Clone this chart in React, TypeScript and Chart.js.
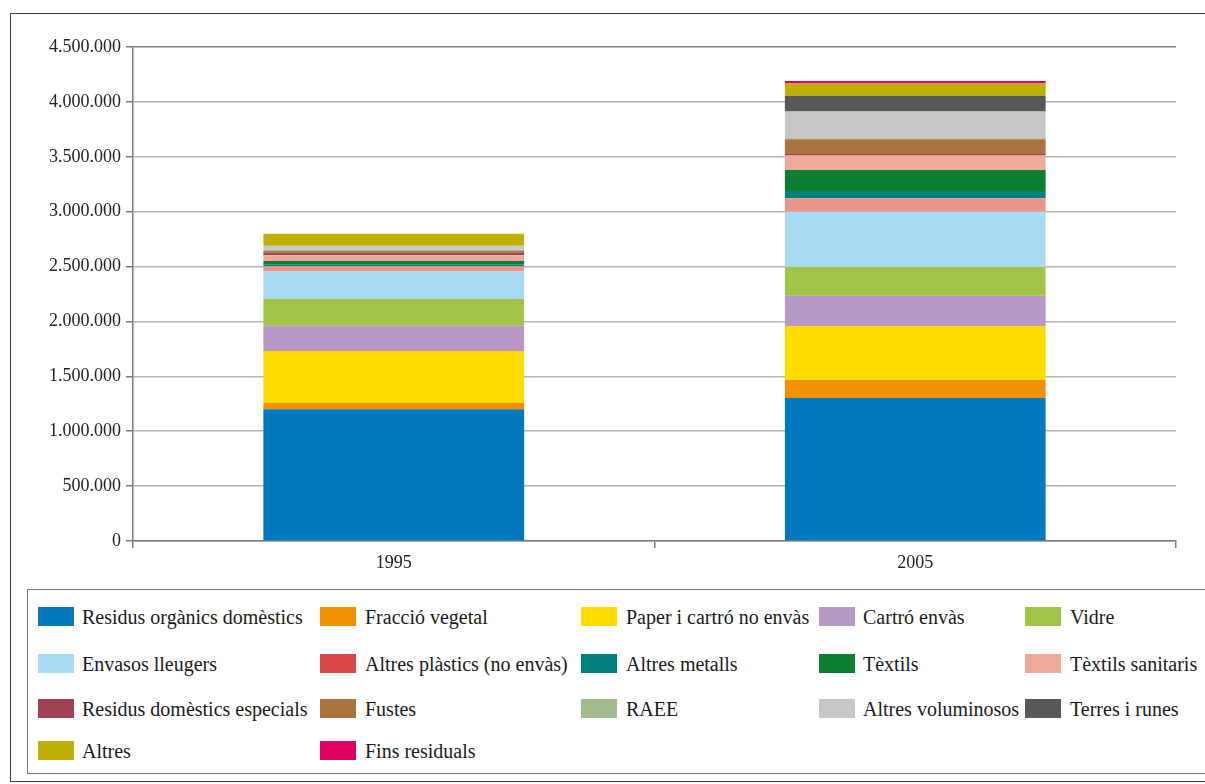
import React, { useEffect, useRef } from "react";
import { Chart, registerables } from "chart.js";

Chart.register(...registerables);

const FONT = "'Liberation Serif', 'DejaVu Serif', serif";

// Years on the category axis
const years = ["1995", "2005"];

// Tonnes per waste fraction, [1995, 2005]
const residusOrganics = [1200000, 1303000];
const fraccioVegetal = [57000, 164000];
const paperCartro = [474000, 492000];
const cartroEnvas = [230000, 276000];
const vidre = [243000, 261000];
const envasosLleugers = [252000, 504000];
const altresPlastics = [46000, 122000];
const altresMetalls = [18000, 67000];
const textils = [30000, 191000];
const textilsSanitaris = [52000, 131000];
const residusEspecials = [24000, 15000];
const fustes = [15000, 134000];
const raee = [12000, 9000];
const altresVoluminosos = [36000, 243000];
const terresRunes = [0, 143000];
const altres = [109000, 112000];
const finsResiduals = [0, 24000];

// Y axis limits
const yMax = 4500000;
const yStep = 500000;

const series = [
  { label: "Residus orgànics domèstics", data: residusOrganics, color: "#0079BC" },
  { label: "Fracció vegetal", data: fraccioVegetal, color: "#F29100" },
  { label: "Paper i cartró no envàs", data: paperCartro, color: "#FFDB00" },
  { label: "Cartró envàs", data: cartroEnvas, color: "#B699C4" },
  { label: "Vidre", data: vidre, color: "#A2C547" },
  { label: "Envasos lleugers", data: envasosLleugers, color: "#A6DBF3" },
  { label: "Altres plàstics (no envàs)", data: altresPlastics, color: "#E99688", key: "#DA474A" },
  { label: "Altres metalls", data: altresMetalls, color: "#00807E" },
  { label: "Tèxtils", data: textils, color: "#0B7F2E" },
  { label: "Tèxtils sanitaris", data: textilsSanitaris, color: "#EEA99B" },
  { label: "Residus domèstics especials", data: residusEspecials, color: "#A04154" },
  { label: "Fustes", data: fustes, color: "#A9743E" },
  { label: "RAEE", data: raee, color: "#A2BC8E" },
  { label: "Altres voluminosos", data: altresVoluminosos, color: "#C6C7C9" },
  { label: "Terres i runes", data: terresRunes, color: "#58585A" },
  { label: "Altres", data: altres, color: "#BFAF00" },
  { label: "Fins residuals", data: finsResiduals, color: "#E0005E" },
];

// Legend grid: 5 columns
const legendBoxX = [38, 320, 581, 819, 1025];
const legendTextX = [82, 365, 626, 863, 1070];
const legendRowY = [607, 654, 699, 741];

function formatThousands(v: number): string {
  return String(Math.round(v)).replace(/\B(?=(\d{3})+(?!\d))/g, ".");
}

export default function App() {
  const canvasRef = useRef<HTMLCanvasElement>(null);

  useEffect(() => {
    const canvas = canvasRef.current;
    if (!canvas) return;
    const chart = new Chart(canvas, {
      type: "bar",
      data: {
        labels: years,
        datasets: series.map((s) => ({
          label: s.label,
          data: s.data,
          backgroundColor: s.color,
          borderWidth: 0,
          categoryPercentage: 0.5,
          barPercentage: 1,
        })),
      },
      options: {
        animation: false,
        responsive: false,
        maintainAspectRatio: false,
        layout: { padding: { top: 47, right: 29, left: 0, bottom: 0 } },
        plugins: {
          legend: { display: false },
          tooltip: { enabled: false },
        },
        scales: {
          x: {
            stacked: true,
            grid: {
              offset: true,
              drawOnChartArea: false,
              color: "#7a7a7a",
              lineWidth: 1.5,
              tickLength: 7,
            },
            border: { color: "#7a7a7a", width: 1.5 },
            ticks: {
              font: { family: FONT, size: 18 },
              color: "#222",
              padding: 4,
            },
            afterFit: (s: any) => {
              s.height = 59;
            },
          },
          y: {
            stacked: true,
            min: 0,
            max: yMax,
            ticks: {
              stepSize: yStep,
              font: { family: FONT, size: 18 },
              color: "#222",
              padding: 5,
              callback: (v: any) => formatThousands(Number(v)),
            },
            grid: {
              color: (ctx: any) =>
                ctx.tick && ctx.tick.value === yMax ? "#808080" : "#b5b5b5",
              tickColor: "#7a7a7a",
              lineWidth: 1.5,
              tickLength: 7,
            },
            border: { color: "#7a7a7a", width: 1.5 },
            afterFit: (s: any) => {
              s.width = 133;
            },
          },
        },
      },
    });
    return () => chart.destroy();
  }, []);

  return (
    <div
      style={{
        position: "absolute",
        left: 0,
        top: 0,
        width: 1205,
        height: 784,
        overflow: "hidden",
        background: "#fff",
        fontFamily: FONT,
      }}
    >
      <div
        style={{
          position: "absolute",
          left: 10,
          top: 13,
          width: 1220,
          height: 769,
          border: "1.5px solid #3a3a3a",
          boxSizing: "border-box",
        }}
      />
      <div
        style={{
          position: "absolute",
          left: 27,
          top: 589,
          width: 1200,
          height: 185,
          border: "1.5px solid #7a7a7a",
          boxSizing: "border-box",
        }}
      />
      {series.map((s, i) => {
        const col = i % 5;
        const row = Math.floor(i / 5);
        const y = legendRowY[row];
        return (
          <React.Fragment key={s.label}>
            <div
              style={{
                position: "absolute",
                left: legendBoxX[col],
                top: y,
                width: 36,
                height: 19,
                background: s.key || s.color,
              }}
            />
            <div
              style={{
                position: "absolute",
                left: legendTextX[col],
                top: y - 1,
                height: 23,
                lineHeight: "23px",
                fontSize: 20,
                color: "#1a1a1a",
                whiteSpace: "nowrap",
              }}
            >
              {s.label}
            </div>
          </React.Fragment>
        );
      })}
      <canvas
        ref={canvasRef}
        width={1205}
        height={600}
        style={{ position: "absolute", left: 0, top: 0, width: 1205, height: 600 }}
      />
    </div>
  );
}
